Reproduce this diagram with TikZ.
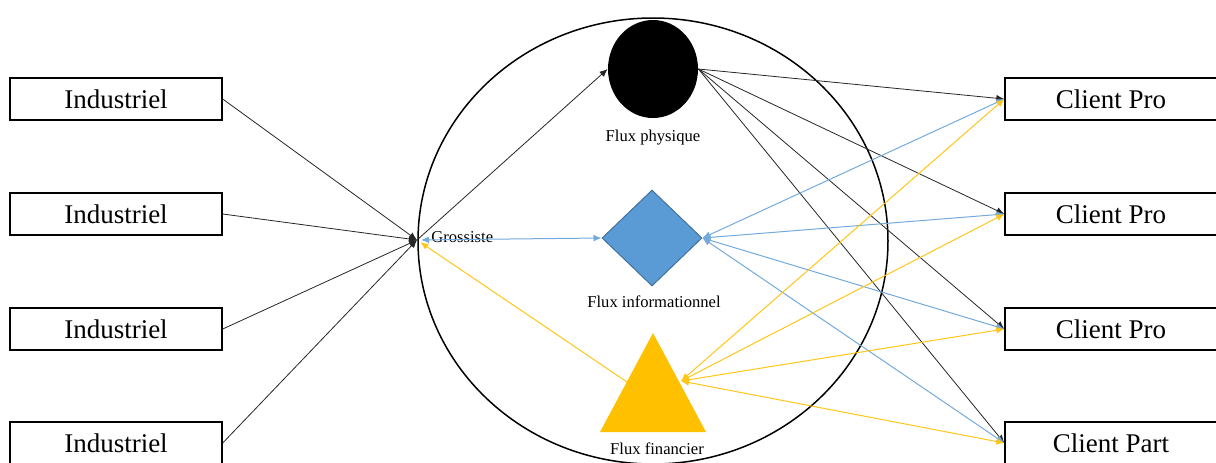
\documentclass[tikz,border=0pt]{standalone}
\usepackage{fontspec}
\setmainfont{Liberation Serif}
\usetikzlibrary{arrows.meta,shapes.geometric}
\definecolor{infoblue}{HTML}{5B9BD5}
\definecolor{infoedge}{HTML}{41719C}
\definecolor{fingold}{HTML}{FFC000}

\begin{document}
\begin{tikzpicture}[x=0.5pt, y=-0.5pt, >={Latex[length=4pt,width=3.4pt]},
  actor/.style={draw, line width=0.7pt, minimum width=106pt, minimum height=21pt, inner sep=0pt, font=\fontsize{13.5}{15}\selectfont},
  lbl/.style={font=\fontsize{8.3}{10}\selectfont, inner sep=0pt},
  physl/.style={color=black!85, line width=0.4pt},
  infol/.style={color=infoblue!85, line width=0.5pt},
  finl/.style={color=fingold!90, line width=0.5pt}]
  \useasboundingbox (0,0) rectangle (1216,462);
  \draw[line width=0.75pt] (653,241) ellipse [x radius=117.5pt, y radius=111.5pt];

  \node[actor] (ind1) at (116,99) {Industriel};
  \node[actor] (ind2) at (116,214) {Industriel};
  \node[actor] (ind3) at (116,329) {Industriel};
  \node[actor] (ind4) at (116,443) {Industriel};
  \node[actor] (cp1) at (1111,99) {Client Pro};
  \node[actor] (cp2) at (1111,214) {Client Pro};
  \node[actor] (cp3) at (1111,329) {Client Pro};
  \node[actor] (cpart) at (1111,443) {Client Part};

  \node[ellipse, fill=black, minimum width=45pt, minimum height=49pt, inner sep=0pt] (fphys) at (653,69) {};
  \node[lbl] (lphys) at (653,138) {Flux physique};
  \node[diamond, fill=infoblue, draw=infoedge, line width=0.5pt, minimum width=50pt, minimum height=48pt, inner sep=0pt] (finfo) at (652,238) {};
  \node[lbl] (linfo) at (654,302) {Flux informationnel};
  \fill[fingold] (653,333) -- (706,432) -- (600,432) -- cycle;
  \node[lbl] (lfin) at (657,449) {Flux financier};
  \coordinate (finL) at (627,382);
  \coordinate (finR) at (681,381);

  \coordinate (gros) at (417,240);
  \node[lbl, anchor=west] (lgros) at (431,237) {Grossiste};

  \path[->, physl]
  (ind1.east) edge (gros)
  (ind2.east) edge (gros)
  (ind3.east) edge (gros)
  (ind4.east) edge (gros)
  (gros) edge (fphys.west)
  (fphys.east) edge (cp1.west)
  (fphys.east) edge (cp2.west)
  (fphys.east) edge (cp3.west)
  (fphys.east) edge (cpart.west)
  ;
  \path[<->, infol]
  (gros) edge[shorten <=2pt] (finfo.west)
  (finfo.east) edge (cp1.west)
  (finfo.east) edge (cp2.west)
  (finfo.east) edge (cp3.west)
  (finfo.east) edge (cpart.west)
  ;
  \path[<->, finl]
  (finL) edge[->, shorten >=2pt] (gros)
  (finR) edge (cp1.west)
  (finR) edge (cp2.west)
  (finR) edge (cp3.west)
  (finR) edge (cpart.west)
  ;
\end{tikzpicture}
\end{document}
